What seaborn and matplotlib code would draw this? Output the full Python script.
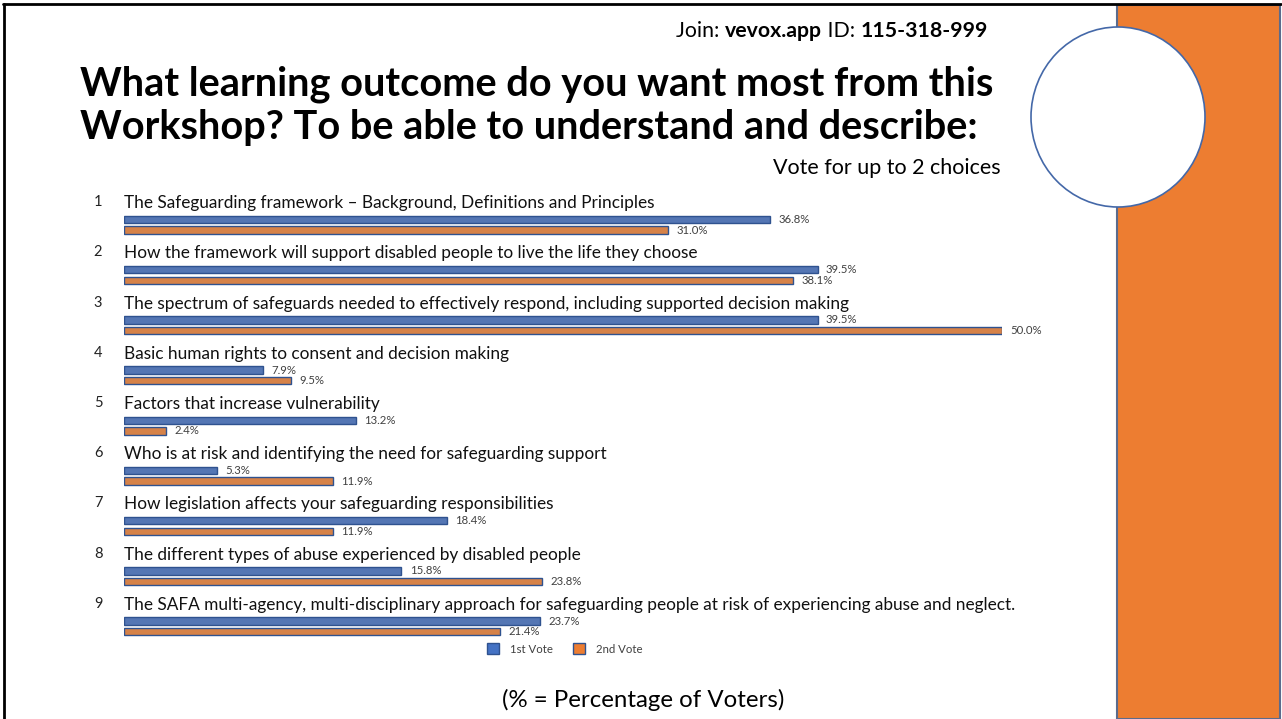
import matplotlib
matplotlib.use("Agg")
import matplotlib.pyplot as plt
from matplotlib.patches import Rectangle, Ellipse, Patch
import seaborn as sns
import pandas as pd

# Poll data
item_numbers = ["1", "2", "3", "4", "5", "6", "7", "8", "9"]
item_texts = [
    "The Safeguarding framework \u2013 Background, Definitions and Principles",
    "How the framework will support disabled people to live the life they choose",
    "The spectrum of safeguards needed to effectively respond, including supported decision making",
    "Basic human rights to consent and decision making",
    "Factors that increase vulnerability",
    "Who is at risk and identifying the need for safeguarding support",
    "How legislation affects your safeguarding responsibilities",
    "The different types of abuse experienced by disabled people",
    "The SAFA multi-agency, multi-disciplinary approach for safeguarding people at risk of experiencing abuse and neglect.",
]
first_vote = [36.8, 39.5, 39.5, 7.9, 13.2, 5.3, 18.4, 15.8, 23.7]
second_vote = [31.0, 38.1, 50.0, 9.5, 2.4, 11.9, 11.9, 23.8, 21.4]
vote_names = ["1st Vote", "2nd Vote"]

BLUE = "#4472C4"
ORANGE = "#ED7D31"
EDGE = "#2F528F"

df = pd.DataFrame({
    "item": item_numbers * 2,
    "pct": first_vote + second_vote,
    "vote": [vote_names[0]] * len(first_vote) + [vote_names[1]] * len(second_vote),
})

sns.set_style("white")
plt.rcParams["font.family"] = ["Lato", "DejaVu Sans"]
plt.rcParams["text.color"] = "black"

W, H = 1282, 719
fig = plt.figure(figsize=(W / 100, H / 100), dpi=100)


def fx(x):
    return x / W


def fy(y):
    return 1 - y / H


# Slide decorations: frame, orange side panel, circle
fig.patches.append(Rectangle((fx(1117), 0), fx(1280) - fx(1117), fy(5),
                             transform=fig.transFigure, facecolor=ORANGE,
                             edgecolor="#5B6B8C", linewidth=1.5, zorder=0))
fig.lines.append(plt.Line2D([fx(3), fx(1281)], [fy(4), fy(4)], transform=fig.transFigure,
                            color="black", linewidth=2))
fig.lines.append(plt.Line2D([fx(4), fx(4)], [fy(4), 0], transform=fig.transFigure,
                            color="black", linewidth=2))
fig.patches.append(Ellipse((fx(1118), fy(117)), fx(174), 180 / H,
                           transform=fig.transFigure, facecolor="white",
                           edgecolor="#4468A8", linewidth=1.2, zorder=1))

# Bar chart axes
ax = fig.add_axes([fx(124), fy(651.5), fx(1002) - fx(124), (651.5 - 199.7) / H])
sns.barplot(data=df, x="pct", y="item", hue="vote", orient="h",
            order=item_numbers, hue_order=vote_names,
            palette=[BLUE, ORANGE], width=0.42, gap=0.3,
            edgecolor=EDGE, linewidth=1.0, legend=False, ax=ax)
ax.set_xlim(0, 50)
ax.set_ylim(len(item_numbers) - 0.5, -0.5)
ax.axis("off")

for cont in ax.containers:
    ax.bar_label(cont, fmt="%.1f%%", padding=6, fontsize=8.2, color="#404040")

for i, (num, txt) in enumerate(zip(item_numbers, item_texts)):
    ax.text(-1.48, i - 0.45, num, ha="center", va="center", fontsize=10.5, color="#222222")
    ax.text(0, i - 0.43, txt, ha="left", va="center", fontsize=12.4, color="#111111")

handles = [Patch(facecolor=BLUE, edgecolor=EDGE), Patch(facecolor=ORANGE, edgecolor=EDGE)]
fig.legend(handles, vote_names, loc="center", bbox_to_anchor=(fx(565), fy(649)),
           ncol=2, frameon=False, fontsize=8.2, handlelength=1.05, handleheight=1.05,
           columnspacing=1.75, handletextpad=0.95, borderpad=0, borderaxespad=0,
           labelcolor="#404040")

# Titles and captions
fig.text(fx(80), fy(84), "What learning outcome do you want most from this",
         fontsize=28.6, fontweight="bold", ha="left", va="center", color="black")
fig.text(fx(80), fy(128), "Workshop? To be able to understand and describe:",
         fontsize=28.6, fontweight="bold", ha="left", va="center", color="black")
fig.text(fx(1001), fy(168), "Vote for up to 2 choices", fontsize=15.5, ha="right", va="center")
fig.text(fx(643), fy(700), "(% = Percentage of Voters)", fontsize=17.3, ha="center", va="center")

# "Join: vevox.app ID: 115-318-999" with mixed weights, each piece chained to the previous
parts = [("Join: ", "normal"), ("vevox.app", "bold"), (" ID: ", "normal"), ("115-318-999", "bold")]
join_size = 15.3
last = fig.text(fx(676), fy(31), parts[0][0], fontsize=join_size, fontweight=parts[0][1],
                ha="left", va="center")
for s, w in parts[1:]:
    last = ax.annotate(s, xy=(1, 0.5), xycoords=last, ha="left", va="center",
                       fontsize=join_size, fontweight=w, annotation_clip=False)

fig.savefig("out.png", dpi=100, facecolor="white")
